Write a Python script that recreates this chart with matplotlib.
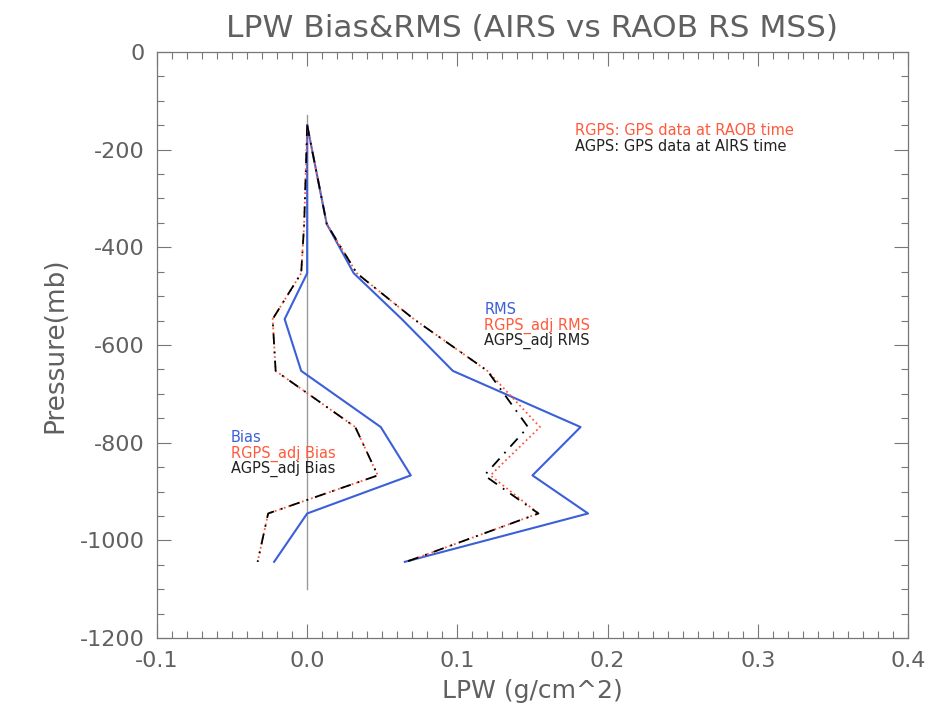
import numpy as np
import matplotlib.pyplot as plt
from matplotlib.ticker import MultipleLocator

# Pressure levels (mb, plotted as negative)
pres = [-150, -352, -453, -547, -653, -768, -867, -945, -1044]

# Bias profiles
bias = [0.0, 0.0, 0.0, -0.015, -0.004, 0.049, 0.069, 0.0, -0.022]
rgps_bias = [0.0, -0.002, -0.004, -0.023, -0.021, 0.032, 0.047, -0.026, -0.033]
agps_bias = [0.0, -0.002, -0.004, -0.023, -0.021, 0.032, 0.047, -0.026, -0.033]

# RMS profiles
rms = [0.0, 0.013, 0.031, 0.063, 0.097, 0.182, 0.150, 0.187, 0.065]
rgps_rms = [0.0, 0.013, 0.033, 0.071, 0.120, 0.155, 0.122, 0.154, 0.066]
agps_rms = [0.0, 0.013, 0.033, 0.071, 0.120, 0.147, 0.118, 0.154, 0.066]

blue = '#3b5fd8'
red = '#ff5a3c'
grey = '#606060'

plt.rcParams['font.family'] = ['DejaVu Sans']
plt.rcParams['axes.unicode_minus'] = False

fig = plt.figure(figsize=(9.3, 7.28), dpi=100)
ax = fig.add_axes([0.1688, 0.1236, 0.8075, 0.805])

# zero line
ax.plot([0, 0], [-130, -1100], color='#999999', lw=1.0)

ax.plot(bias, pres, color=blue, lw=1.5)
ax.plot(rgps_bias, pres, color=red, lw=1.3, ls=':')
ax.plot(agps_bias, pres, color='black', lw=1.3, ls=(0, (6, 4, 1, 4)))

ax.plot(rms, pres, color=blue, lw=1.5)
ax.plot(rgps_rms, pres, color=red, lw=1.3, ls=':')
ax.plot(agps_rms, pres, color='black', lw=1.3, ls=(0, (6, 4, 1, 4)))

ax.set_xlim(-0.1, 0.4)
ax.set_ylim(-1200, 0)
ax.xaxis.set_minor_locator(MultipleLocator(0.01))
ax.yaxis.set_major_locator(MultipleLocator(200))
ax.yaxis.set_minor_locator(MultipleLocator(50))
ax.set_xticks([-0.1, 0.0, 0.1, 0.2, 0.3, 0.4])
ax.set_xticklabels(['-0.1', '0.0', '0.1', '0.2', '0.3', '0.4'])
ax.tick_params(which='both', direction='in', top=True, right=True, color='#777777',
               labelcolor=grey, labelsize=16)
ax.tick_params(which='major', length=10, width=0.8, pad=9)
ax.tick_params(which='minor', length=5, width=0.8)
for s in ax.spines.values():
    s.set_color('#777777')
    s.set_linewidth(0.9)

ax.set_title('LPW Bias&RMS (AIRS vs RAOB RS MSS)', fontsize=22.5, color=grey, pad=11)
ax.set_xlabel('LPW (g/cm^2)', fontsize=18, color=grey, labelpad=6)
ax.set_ylabel('Pressure(mb)', fontsize=19, color=grey, labelpad=8)

fs = 10.5
ax.text(-0.051, -790, 'Bias', color=blue, fontsize=fs, va='center')
ax.text(-0.051, -822, 'RGPS_adj Bias', color=red, fontsize=fs, va='center')
ax.text(-0.051, -853, 'AGPS_adj Bias', color='#222222', fontsize=fs, va='center')

ax.text(0.118, -528, 'RMS', color=blue, fontsize=fs, va='center')
ax.text(0.118, -560, 'RGPS_adj RMS', color=red, fontsize=fs, va='center')
ax.text(0.118, -591, 'AGPS_adj RMS', color='#222222', fontsize=fs, va='center')

ax.text(0.178, -160, 'RGPS: GPS data at RAOB time', color=red, fontsize=fs, va='center')
ax.text(0.178, -193, 'AGPS: GPS data at AIRS time', color='#222222', fontsize=fs, va='center')

fig.savefig('out.png', dpi=100)
